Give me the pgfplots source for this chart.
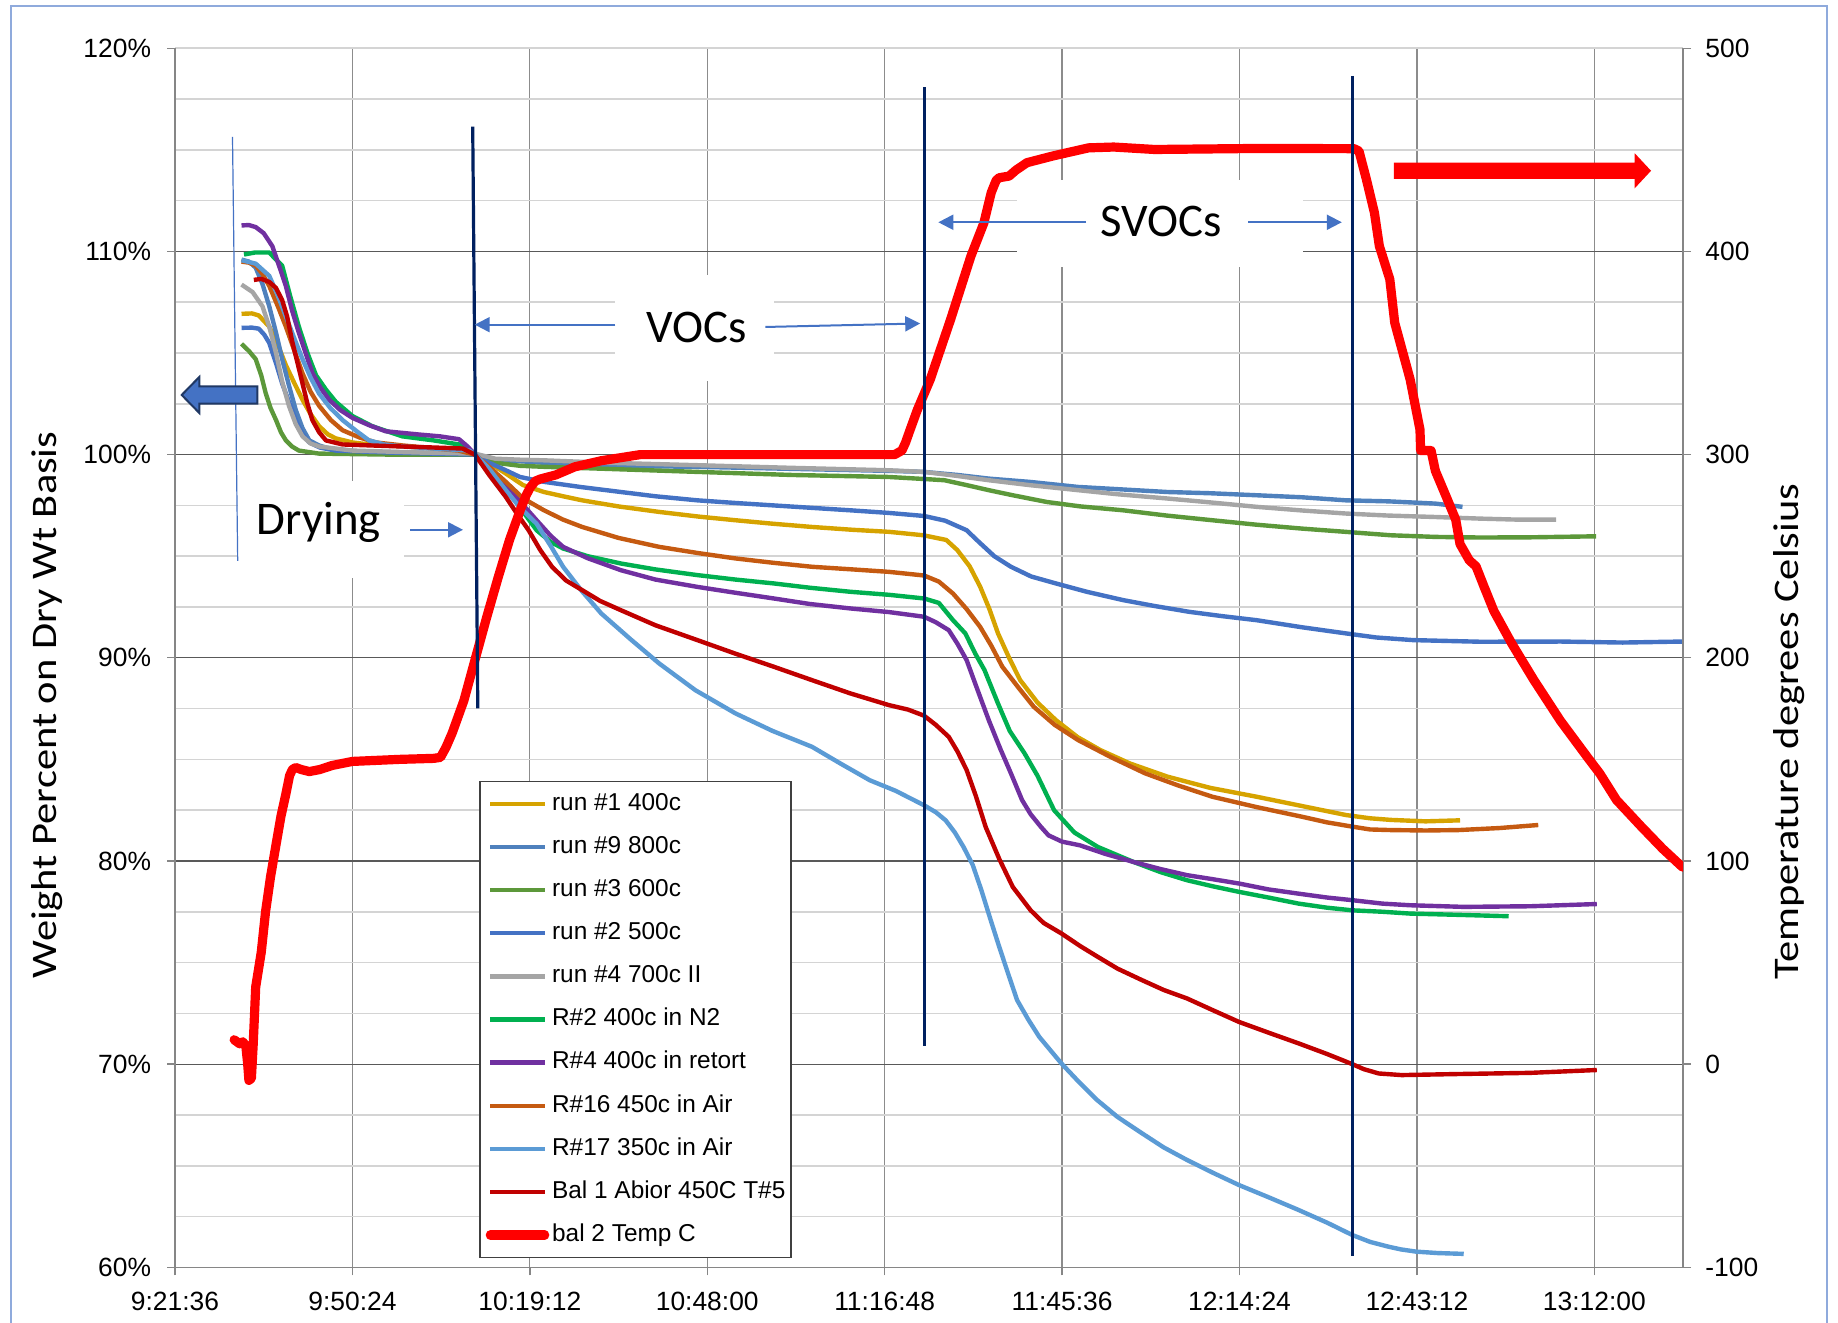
\documentclass[border=0pt]{standalone}
\usepackage{pgfplots}
\pgfplotsset{compat=1.18}
\usepackage{fontspec}
\setmainfont{Liberation Sans}
\newfontfamily\calfont{Carlito}
\newfontfamily\calst[FakeStretch=1.18]{Carlito}
\usetikzlibrary{arrows.meta}
\definecolor{cA}{RGB}{214,163,0}
\definecolor{cB}{RGB}{79,129,189}
\definecolor{cC}{RGB}{92,152,58}
\definecolor{cD}{RGB}{68,114,196}
\definecolor{cE}{RGB}{165,165,165}
\definecolor{cF}{RGB}{0,176,80}
\definecolor{cG}{RGB}{112,48,160}
\definecolor{cH}{RGB}{197,90,17}
\definecolor{cI}{RGB}{91,155,213}
\definecolor{cJ}{RGB}{192,0,0}
\definecolor{cT}{RGB}{255,0,0}
\definecolor{navy}{RGB}{0,32,96}
\definecolor{exblue}{RGB}{68,114,196}
\definecolor{exdark}{RGB}{32,56,100}
\definecolor{gridmaj}{RGB}{89,89,89}
\definecolor{gridmin}{RGB}{212,212,212}
\definecolor{gridx}{RGB}{140,140,140}
\definecolor{axgray}{RGB}{134,134,134}
\definecolor{framecol}{RGB}{143,170,220}
\begin{document}
\begin{tikzpicture}
\path[use as bounding box] (-43.75pt,-13.925pt) rectangle (415.75pt,316.825pt);
\pgfplotsset{
  common/.style={
    scale only axis, width=377pt, height=304.75pt,
    xmin=0, xmax=244.8,
    axis line style={-, draw=axgray, line width=0.35pt},
    tick style={draw=axgray, line width=0.35pt},
    tick align=outside, major tick length=2pt, minor tick length=0pt,
    ticklabel style={font=\fontsize{6.6}{7.5}\selectfont, text=black},
    every axis plot/.append style={line join=round},
  },
  wl/.style={line width=1.1pt},
}
\begin{axis}[common,
  ymin=60, ymax=120,
  axis x line*=bottom, axis y line*=left,
  xtick={0,28.8,57.6,86.4,115.2,144,172.8,201.6,230.4},
  xticklabels={9:21:36,9:50:24,10:19:12,10:48:00,11:16:48,11:45:36,12:14:24,12:43:12,13:12:00},
  ytick={60,70,80,90,100,110},
  yticklabels={60\%,70\%,80\%,90\%,100\%,110\%},
  extra y ticks={120}, extra y tick labels={120\%},
  extra y tick style={grid=none},
  minor ytick={62.5,65,67.5,72.5,75,77.5,82.5,85,87.5,92.5,95,97.5,102.5,105,107.5,112.5,115,117.5,120},
  xmajorgrids, ymajorgrids, yminorgrids,
  major x grid style={draw=gridx, line width=0.3pt},
  major y grid style={draw=gridmaj, line width=0.3pt},
  minor y grid style={draw=gridmin, line width=0.4pt},
  yticklabel style={anchor=east, inner sep=0pt, xshift=-3.8pt},
  xticklabel style={anchor=north, inner sep=0pt, yshift=-4.1pt},
]
\addplot[cA, wl] coordinates {(10.8,106.93) (12.5,106.95) (13.6,106.85) (15.3,106.3) (16.7,105.4) (18.0,104.4) (19.4,103.5) (20.7,102.7) (22.0,102.0) (23.4,101.4) (24.8,101.0) (26.1,100.8) (28.8,100.6) (31.5,100.5) (40,100.35) (46,100.2) (48.7,100.0) (51,99.6) (53.7,99.07) (56.5,98.5) (59.9,98.16) (63,97.95) (66.1,97.75) (72,97.45) (78.6,97.18) (85,96.95) (91.0,96.77) (97,96.6) (103.4,96.44) (110,96.3) (115.9,96.2) (121.5,96.03) (125.2,95.8) (127,95.3) (129,94.5) (130.7,93.5) (132.2,92.4) (133.6,91.2) (135.4,90.0) (137.2,88.9) (140,87.8) (143.0,86.93) (146.5,86.1) (150.2,85.46) (155,84.8) (161.1,84.15) (168,83.6) (175.6,83.16) (183,82.7) (190.1,82.26) (194,82.1) (197.4,82.02) (203,81.95) (208.6,82.0)};
\addplot[cB, wl] coordinates {(10.8,109.6) (12,109.5) (13.1,109.2) (14.2,108.4) (15.3,107.3) (16.4,106.0) (17.4,104.7) (18.5,103.4) (19.6,102.2) (20.7,101.3) (21.8,100.7) (23.4,100.45) (25.0,100.3) (30,100.15) (40,100.1) (48.7,100.0) (52,99.75) (59.9,99.6) (70,99.45) (84.8,99.4) (100,99.3) (115.9,99.2) (121.6,99.15) (127,99.0) (132.1,98.82) (138.7,98.66) (146.6,98.41) (153,98.3) (161.1,98.16) (168,98.1) (175.6,98.0) (183,97.9) (190.1,97.75) (197,97.7) (204.6,97.59) (209.0,97.43)};
\addplot[cC, wl] coordinates {(10.8,105.45) (12,105.1) (13.1,104.7) (14.0,103.9) (14.7,103.05) (15.5,102.3) (16.4,101.7) (17.2,101.1) (18.0,100.7) (19,100.4) (20.1,100.2) (23.4,100.05) (35,100.0) (48.7,100.0) (52,99.6) (56,99.45) (59.9,99.4) (70,99.3) (84.8,99.15) (100,99.0) (115.9,98.9) (121.6,98.8) (124.9,98.74) (128.5,98.5) (132.1,98.25) (136,98.0) (141.5,97.67) (147,97.45) (153.9,97.26) (161,97.0) (168.4,96.77) (175.6,96.55) (182.9,96.36) (190,96.2) (197.4,96.03) (204.6,95.95) (211.9,95.92) (220,95.93) (230.7,95.98)};
\addplot[cD, wl] coordinates {(10.8,106.24) (12.5,106.25) (13.6,106.2) (14.5,105.9) (15.3,105.5) (16.4,104.5) (17.4,103.5) (18.5,102.6) (19.6,101.7) (20.7,101.0) (21.8,100.6) (23.5,100.35) (26.1,100.2) (35,100.1) (48.7,100.0) (51,99.6) (53.7,99.23) (56,98.9) (59.9,98.66) (66,98.4) (72.4,98.16) (78,97.95) (84.8,97.75) (91,97.62) (97.2,97.5) (103.4,97.38) (109.6,97.26) (115.9,97.13) (121.6,96.98) (125,96.75) (128.5,96.28) (130.5,95.7) (133,95.0) (135.7,94.48) (139,94.0) (143.0,93.66) (148,93.25) (153.9,92.84) (159,92.55) (164.7,92.26) (170,92.05) (175.6,91.85) (183,91.5) (190.1,91.2) (195,91.0) (201.0,90.87) (211.9,90.79) (225,90.8) (235,90.75) (244.7,90.8)};
\addplot[cE, wl] coordinates {(10.8,108.37) (12.6,108.0) (14.2,107.3) (15.3,106.3) (16.4,105.0) (17.4,103.6) (18.5,102.4) (19.6,101.5) (20.7,100.9) (22,100.55) (23.4,100.4) (28.8,100.2) (40,100.1) (48.7,100.05) (52,99.8) (56,99.75) (59.9,99.72) (70,99.6) (84.8,99.48) (100,99.35) (115.9,99.23) (121.6,99.15) (127,98.95) (132.1,98.74) (138.7,98.5) (146.6,98.25) (153,98.05) (161.1,97.84) (168,97.65) (175.6,97.43) (183,97.25) (190.1,97.1) (197,97.0) (204.6,96.93) (211.9,96.85) (218,96.8) (224.2,96.8)};
\addplot[cF, wl] coordinates {(11.2,109.85) (13,109.95) (15.3,109.95) (16.4,109.6) (17.4,109.3) (18.7,107.8) (20.1,106.3) (21.5,105.0) (22.9,103.9) (24.5,103.2) (26.1,102.6) (28.8,101.9) (32,101.4) (36.9,100.9) (42,100.7) (46.1,100.5) (48.7,100.0) (51,99.2) (53.7,98.41) (56,97.4) (58.7,96.28) (61,95.7) (63.0,95.38) (67,95.0) (72.4,94.64) (78,94.35) (84.8,94.07) (91,93.85) (97.2,93.66) (103,93.45) (109.6,93.25) (115.9,93.1) (121.6,92.92) (124,92.7) (126.3,91.85) (128.3,91.2) (129.9,90.21) (131.4,89.4) (133.6,87.75) (135.5,86.4) (137.9,85.3) (140,84.2) (142.7,82.5) (146,81.4) (149.8,80.69) (155.6,79.95) (160,79.45) (164.3,79.05) (168.5,78.75) (172.7,78.48) (177.5,78.2) (182.4,77.9) (187,77.7) (191.1,77.57) (196,77.5) (200.5,77.41) (208,77.35) (216.5,77.28)};
\addplot[cG, wl] coordinates {(10.8,111.28) (12,111.3) (13.1,111.2) (14.4,110.9) (15.8,110.26) (17,109.2) (18.0,108.29) (19,107.1) (20.1,106.0) (21.2,105.0) (22.3,104.02) (23.6,103.3) (25.0,102.71) (26.8,102.2) (28.8,101.81) (31.5,101.45) (34.2,101.15) (39.6,100.99) (43,100.9) (46.1,100.76) (47.5,100.4) (48.7,100.0) (51,99.1) (53.7,98.41) (56,97.7) (58.7,96.77) (61,96.0) (63.0,95.46) (67,94.9) (72.4,94.31) (78,93.85) (84.8,93.49) (91,93.2) (97.2,92.92) (103,92.65) (109.6,92.43) (115.9,92.25) (121.6,92.02) (123.5,91.75) (125.6,91.36) (127,90.7) (128.5,89.89) (130.3,88.4) (132.1,86.93) (134,85.5) (135.7,84.31) (137.5,83.0) (138.9,82.3) (140.5,81.7) (141.8,81.26) (144,80.95) (146.9,80.77) (151,80.35) (155.6,79.95) (160,79.6) (164.3,79.3) (168.5,79.1) (172.7,78.89) (177.5,78.6) (182.4,78.39) (187,78.2) (191.1,78.07) (196,77.9) (200.5,77.82) (209.2,77.74) (220,77.77) (230.8,77.88)};
\addplot[cH, wl] coordinates {(10.8,109.5) (12,109.45) (13.1,109.3) (14.2,108.9) (15.3,108.3) (16.7,107.3) (18.0,106.3) (19.4,105.1) (20.7,104.0) (22,103.1) (23.4,102.4) (25.3,101.7) (27.2,101.2) (29.9,100.85) (32.6,100.6) (37,100.45) (42.3,100.3) (46,100.2) (48.7,100.0) (51,99.4) (53.7,98.66) (56.5,97.85) (59.9,97.26) (63,96.8) (66.1,96.44) (72,95.9) (78.6,95.46) (85,95.15) (91.0,94.89) (97,94.68) (103.4,94.48) (110,94.35) (115.9,94.23) (121.6,94.05) (124,93.75) (126.3,93.16) (128.5,92.4) (130.7,91.52) (132.5,90.6) (134.3,89.56) (137,88.5) (139.4,87.59) (142.8,86.7) (146.6,85.95) (152,85.1) (157.5,84.31) (163,83.7) (168.4,83.16) (175.6,82.65) (182.9,82.18) (187,81.9) (191.1,81.69) (194,81.55) (197.4,81.52) (203,81.5) (208.3,81.52) (215,81.62) (221.3,81.77)};
\addplot[cI, wl] coordinates {(10.8,109.57) (13.1,109.4) (15.3,108.8) (16.6,107.9) (18.0,106.8) (19.4,105.7) (20.7,104.7) (22,103.8) (23.4,103.0) (25.2,102.3) (27.2,101.7) (29.5,101.15) (31.5,100.7) (34,100.5) (36.9,100.4) (42,100.3) (47.8,100.2) (48.8,100.0) (51,99.3) (53.7,98.25) (56,97.4) (58.7,96.6) (61,95.5) (63.0,94.48) (66,93.3) (69.2,92.18) (74,90.9) (78.6,89.72) (84.5,88.4) (91.0,87.26) (97,86.4) (103.4,85.62) (108,84.8) (112.8,83.97) (117,83.45) (121.6,82.74) (123.5,82.4) (125.1,82.0) (126.6,81.4) (128.0,80.69) (129.5,79.8) (130.9,78.56) (132.4,77.1) (133.8,75.77) (135.3,74.4) (136.7,73.15) (138.5,72.2) (140.3,71.34) (143.9,70.03) (146.8,69.1) (149.7,68.23) (153,67.4) (157.0,66.59) (160.5,65.9) (164.3,65.28) (168.5,64.65) (172.7,64.05) (177.5,63.45) (182.4,62.82) (187,62.2) (191.1,61.59) (194,61.25) (196.9,61.02) (199,60.88) (201.5,60.77) (205,60.7) (209.2,60.66)};
\addplot[cJ, wl] coordinates {(12.8,108.6) (14,108.65) (15.3,108.5) (16.4,108.2) (17.4,107.6) (18.2,106.8) (19.0,105.6) (19.9,104.5) (20.7,103.5) (21.5,102.5) (22.3,101.7) (23.4,101.1) (24.5,100.7) (27.2,100.5) (32,100.45) (36.9,100.4) (42,100.35) (46.7,100.3) (48.7,100.0) (51,99.0) (53.7,97.92) (55.5,97.1) (57.4,96.28) (59.3,95.3) (61.2,94.48) (63.5,93.8) (66.1,93.33) (69,92.8) (72.4,92.34) (78,91.6) (84.8,90.87) (91,90.2) (97.2,89.56) (103.4,88.9) (109.6,88.25) (115.9,87.67) (119,87.45) (121.6,87.15) (123.5,86.7) (125.6,86.11) (127,85.4) (128.5,84.48) (130,83.2) (131.6,81.67) (133.8,80.1) (136.0,78.72) (138.9,77.57) (141,76.95) (143.9,76.43) (147,75.8) (149.8,75.28) (153,74.7) (157.0,74.13) (160.5,73.65) (164.3,73.23) (168.5,72.65) (172.7,72.08) (177.5,71.55) (182.4,71.02) (187,70.5) (191.1,70.0) (193,69.75) (195.4,69.54) (199.1,69.46) (207.8,69.51) (220.0,69.57) (230.8,69.71)};
\end{axis}
\begin{axis}[common,
  ymin=-100, ymax=500,
  axis x line=none, axis y line*=right,
  ytick={-100,0,100,200,300,400,500},
  yticklabels={-100,0,100,200,300,400,500},
  yticklabel style={anchor=west, inner sep=0pt, xshift=3.4pt},
  legend cell align=left,
  legend image code/.code={\draw[#1] (0pt,0pt) -- (13.6pt,0pt);},
  legend style={at={(0.2018,0.3992)}, anchor=north west, draw={rgb,255:red,64;green,64;blue,64}, fill=white, line width=0.4pt,
    inner xsep=1.4pt, inner ysep=2.8pt, row sep=5.18pt,
    font=\fontsize{6.1}{7}\selectfont,
    nodes={inner sep=0pt, text height=4.4pt, text depth=1.2pt},
    /tikz/every odd column/.append style={column sep=0.7pt},
    /tikz/every even column/.append style={column sep=0.9pt}},
]
\addlegendimage{cA, wl}
\addlegendentry{run \#1 400c}
\addlegendimage{cB, wl}
\addlegendentry{run \#9 800c}
\addlegendimage{cC, wl}
\addlegendentry{run \#3 600c}
\addlegendimage{cD, wl}
\addlegendentry{run \#2 500c}
\addlegendimage{cE, wl}
\addlegendentry{run \#4 700c II}
\addlegendimage{cF, wl}
\addlegendentry{R\#2 400c in N2}
\addlegendimage{cG, wl}
\addlegendentry{R\#4 400c in retort}
\addlegendimage{cH, wl}
\addlegendentry{R\#16 450c in Air}
\addlegendimage{cI, wl}
\addlegendentry{R\#17 350c in Air}
\addlegendimage{cJ, wl}
\addlegendentry{Bal 1 Abior 450C T\#5}
\addplot[cT, line width=2.3pt, line cap=round] coordinates {(9.6,12) (10.5,10) (11.0,11) (11.5,9) (11.8,0) (12.0,-8) (12.4,-7) (12.7,10) (13.1,38) (14.0,55) (14.7,75) (15.5,92) (16.4,108) (17.2,122) (18.0,133) (18.6,142) (19.05,145) (19.6,146) (20.5,145) (21.8,144) (23.5,145) (25.5,147) (28.8,149) (36.4,150) (42,150.5) (43.1,151) (44,156) (45.0,163) (46.9,179) (48.7,199) (50.6,220) (52.5,240) (54.3,258) (56.2,274) (57.0,280) (57.7,284) (58.5,287) (59.3,288) (61.8,290) (64.9,294) (69.2,297) (75.5,300) (84.8,300) (103.4,300) (116.8,300) (118.0,302) (118.6,306) (119.3,312) (120.5,322) (122.6,337) (125.9,366.5) (129.2,397.7) (131.3,414) (132.5,429) (133.3,435) (133.8,436.3) (135.4,437.1) (136.5,440) (138.3,443.7) (142.5,447) (148.3,451) (152.4,451.4) (159.0,450.2) (175.6,450.7) (191.4,450.6) (192.2,449.4) (193.4,435.5) (194.7,419.1) (195.5,402.7) (197.2,386.3) (198.0,364.9) (200.5,337) (202.1,312.3) (202.2,302) (203.9,302) (204.6,292) (206.4,279) (207.9,268) (208.6,256) (210.1,248) (211.2,245) (212.5,235) (214.1,223) (217.0,207) (220.6,189) (224.9,169) (229.3,151) (231.3,143) (234,130) (238.0,117) (241.5,106) (244.7,97)};
\addlegendentry{bal 2 Temp C}
\end{axis}
\begin{scope}[x=0.25pt, y=-0.25pt, shift={(-43.75pt,316.825pt)}]
  \draw[framecol, line width=0.4pt] (11,6) rectangle (1827,1345);
  \fill[white] (1017,180) rectangle (1303,267);
  \fill[white] (615,275) rectangle (774,381);
  \fill[white] (238,481) rectangle (404,578);
  \draw[navy, line width=0.8pt] (472.7,126.7) -- (477.8,708.5);
  \draw[navy, line width=0.8pt] (924.6,87.3) -- (924.6,1046);
  \draw[navy, line width=0.8pt] (1352.5,76) -- (1352.5,1256);
  \draw[exblue, line width=0.3pt] (232.5,137) -- (237.7,561);
  \filldraw[fill=exblue, draw=exdark, line width=0.5pt, line join=miter] (181.7,395) -- (199.3,377) -- (199.3,386.3) -- (257.3,386.3) -- (257.3,403.7) -- (199.3,403.7) -- (199.3,413) -- cycle;
  \fill[cT] (1393.9,162.7) -- (1634.7,162.7) -- (1634.7,153.3) -- (1651,170.8) -- (1634.7,188.3) -- (1634.7,179) -- (1393.9,179) -- cycle;
  \begin{scope}[exblue, line width=0.5pt, -{Triangle[length=3.75pt,width=3.75pt]}]
    \draw (615.4,324.7) -- (474.7,324.7);
    \draw (765.4,327) -- (920.2,323.5);
    \draw (1086.2,222.3) -- (938.3,222.3);
    \draw (1248,222.3) -- (1341.8,222.3);
    \draw (410.3,529.8) -- (463,529.8);
  \end{scope}
  \node[anchor=base, inner sep=0pt, font=\calfont\fontsize{11.7}{13}\selectfont] at (696.3,342.3) {VOCs};
  \node[anchor=base, inner sep=0pt, font=\calfont\fontsize{11.7}{13}\selectfont] at (1160.7,236.7) {SVOCs};
  \node[anchor=base, inner sep=0pt, font=\calfont\fontsize{11.7}{13}\selectfont] at (318.9,534.5) {Drying};
  \node[rotate=90, inner sep=0pt, font=\calst\fontsize{9}{11}\selectfont] at (47.5,705) {Weight Percent on Dry Wt Basis};
  \node[rotate=90, inner sep=0pt, font=\calst\fontsize{9}{11}\selectfont] at (1789,732) {Temperature degrees Celsius};
\end{scope}
\end{tikzpicture}
\end{document}
